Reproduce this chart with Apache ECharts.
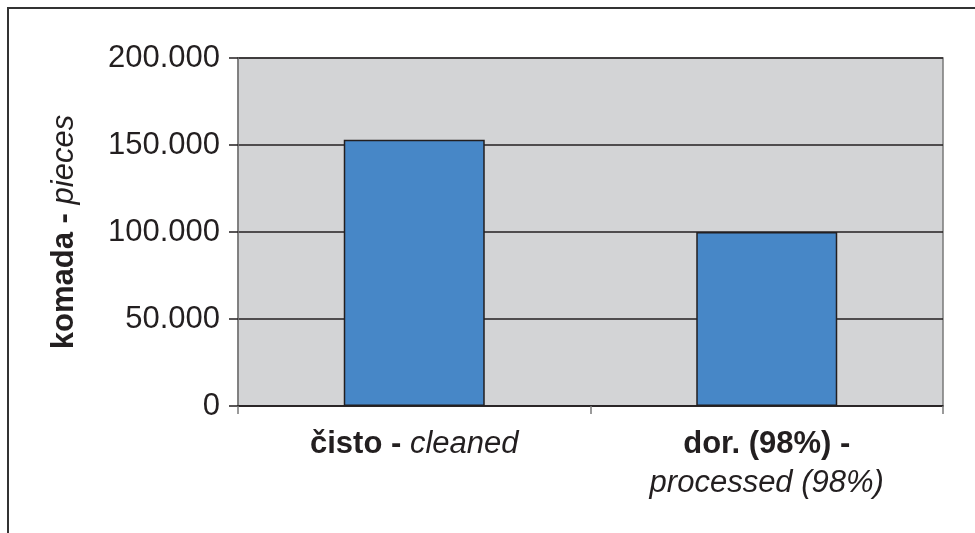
<!DOCTYPE html>
<html>
<head>
<meta charset="utf-8">
<script src="https://cdn.jsdelivr.net/npm/echarts@6/dist/echarts.min.js"></script>
<style>
  html, body { margin: 0; padding: 0; background: #fff; }
  #chart { width: 975px; height: 533px; }
</style>
</head>
<body>
<div id="chart"></div>
<script>
// Category labels: bold Croatian part, italic English part, and whether they wrap
const categoryBold = ['čisto - ', 'dor. (98%) -'];
const categoryItalic = ['cleaned', 'processed (98%)'];
const categoryWrap = [false, true];
const categories = categoryBold.map((b, i) => b.trim() + ' ' + categoryItalic[i]);

// Number of pieces per category
const pieces = [153000, 100000];

// Value axis range and step
const yMin = 0;
const yMax = 200000;
const yStep = 50000;

const axisNameBold = 'komada - ';
const axisNameItalic = 'pieces';

const FONT = "'Liberation Sans', Arial, Helvetica, sans-serif";
const INK = '#231f20';
const FS = 31;

function thousands(v) {
  return String(v).replace(/\B(?=(\d{3})+(?!\d))/g, '.');
}

const chart = echarts.init(document.getElementById('chart'), null, { renderer: 'canvas' });

chart.setOption({
  animation: false,
  backgroundColor: '#ffffff',
  textStyle: { fontFamily: FONT, color: INK },
  graphic: [{
    type: 'rect',
    shape: { x: 8, y: 8, width: 1100, height: 700 },
    style: { fill: 'none', stroke: '#333333', lineWidth: 2 },
    z: 100
  }],
  grid: {
    left: 238, right: 32, top: 58, bottom: 127,
    show: true,
    backgroundColor: '#d3d4d6',
    borderColor: '#7a7a7a',
    borderWidth: 1.5
  },
  xAxis: {
    type: 'category',
    data: categories,
    boundaryGap: true,
    axisLine: { show: true, lineStyle: { color: '#231f20', width: 1.5 } },
    axisTick: { show: true, length: 8, lineStyle: { color: '#7a7a7a', width: 1.5 } },
    axisLabel: {
      margin: 19,
      interval: 0,
      formatter: function (value, idx) {
        const sep = categoryWrap[idx] ? '\n' : '';
        return '{b|' + categoryBold[idx] + '}' + sep + '{i|' + categoryItalic[idx] + '}';
      },
      rich: {
        b: { fontFamily: FONT, fontSize: FS, fontWeight: 'bold', color: INK, lineHeight: 39 },
        i: { fontFamily: FONT, fontSize: FS, fontStyle: 'italic', color: INK, lineHeight: 39 }
      }
    }
  },
  yAxis: {
    type: 'value',
    min: yMin,
    max: yMax,
    interval: yStep,
    name: '{b|' + axisNameBold + '}{i|' + axisNameItalic + '}',
    nameLocation: 'middle',
    nameRotate: 90,
    nameGap: 158,
    nameTextStyle: {
      rich: {
        b: { fontFamily: FONT, fontSize: FS, fontWeight: 'bold', color: INK },
        i: { fontFamily: FONT, fontSize: FS, fontStyle: 'italic', color: INK }
      }
    },
    axisLine: { show: true, lineStyle: { color: '#7a7a7a', width: 1.5 } },
    axisTick: { show: true, length: 9, lineStyle: { color: '#231f20', width: 1.5 } },
    axisLabel: {
      margin: 18,
      fontFamily: FONT,
      fontSize: FS,
      color: INK,
      formatter: thousands
    },
    splitLine: { show: true, lineStyle: { color: '#231f20', width: 1.5 } }
  },
  series: [{
    type: 'bar',
    data: pieces,
    barWidth: '40%',
    itemStyle: { color: '#4787c7', borderColor: '#231f20', borderWidth: 1.5 }
  }]
});
</script>
</body>
</html>
